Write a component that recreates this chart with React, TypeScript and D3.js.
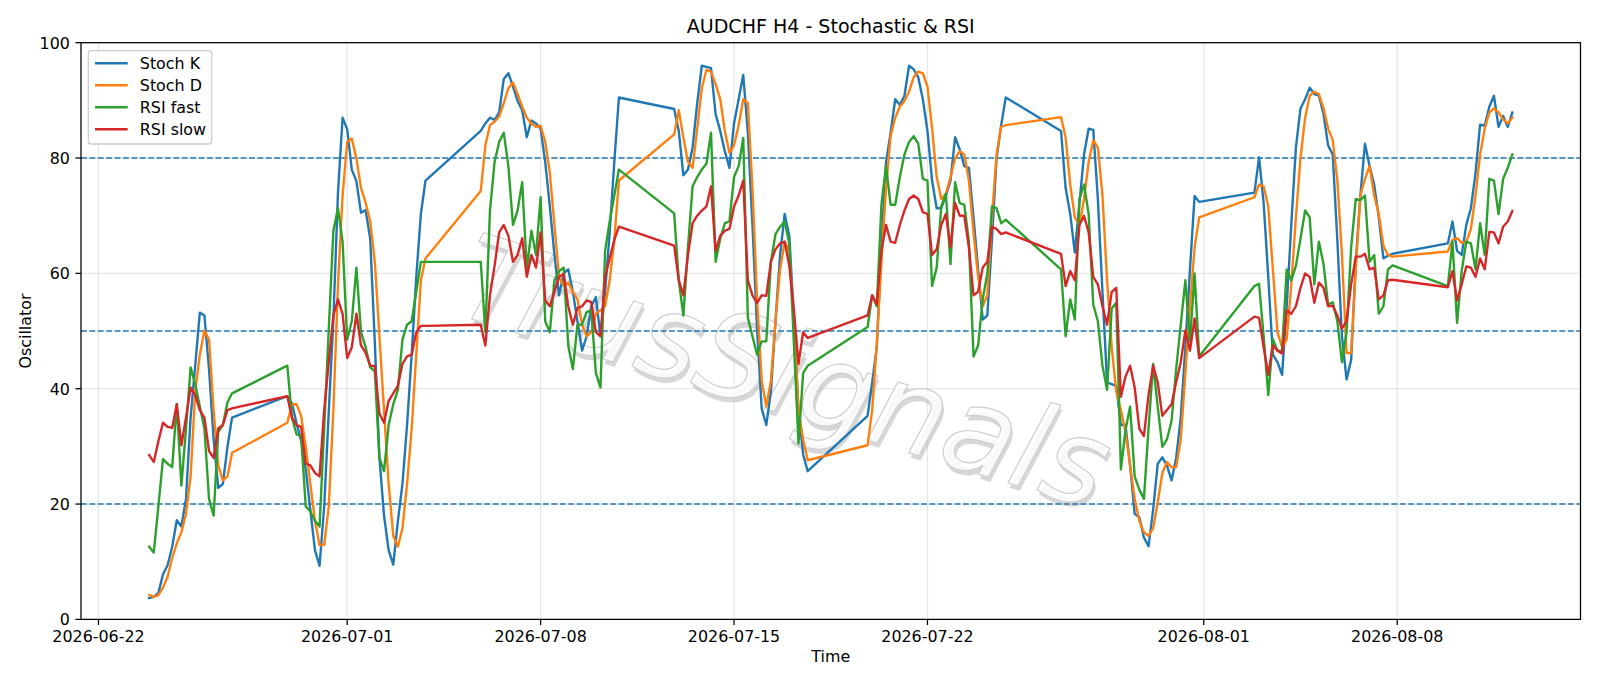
import React, { useEffect, useRef } from 'react';
import * as d3 from 'd3';

// H4 bars, one run per trading week (start time in UTC, number of bars)
const segmentStarts = [
  '2026-06-23T20:00', '2026-06-28T20:00', '2026-07-05T20:00', '2026-07-12T20:00',
  '2026-07-19T20:00', '2026-07-26T20:00', '2026-08-02T20:00', '2026-08-09T20:00',
];
const segmentBars = [19, 31, 31, 30, 31, 31, 31, 15];

const stochK = [
  3.7, 3.9, 4.6, 7.8, 9.4, 12.6, 17.2, 16.1, 20.9, 35.0, 44.0, 53.2, 52.7, 43.4, 31.2, 22.8, 23.5, 29.9, 35.0,
  38.7, 37.5, 34.0, 31.0, 26.0, 19.0, 12.0, 9.3, 19.5, 36.0, 52.0, 74.0, 87.0, 85.0, 78.0, 76.0, 70.5, 71.0, 66.0, 48.0, 28.0, 18.0, 12.0, 9.5, 17.0, 23.5, 33.7, 45.9, 59.4, 70.3, 76.1,
  84.7, 86.0, 87.0, 86.6, 87.9, 93.7, 94.7, 92.4, 89.9, 88.3, 83.6, 86.5, 86.0, 85.1, 79.3, 71.6, 63.2, 56.2, 60.0, 60.7, 56.8, 51.7, 46.6, 49.1, 54.3, 55.9, 49.1, 56.8, 67.1, 79.3, 90.5,
  88.5, 84.7, 77.0, 78.0, 81.8, 89.5, 96.0, 95.8, 95.6, 87.6, 84.7, 81.2, 78.3, 86.0, 90.2, 94.4, 84.4, 68.4, 50.4, 36.6, 33.7, 39.5, 51.7, 63.2, 70.3, 66.5, 52.3, 36.3, 28.6, 25.7,
  35.3, 41.1, 47.2, 64.5, 79.3, 84.4, 90.2, 89.2, 90.8, 96.0, 95.4, 94.0, 90.2, 84.7, 76.1, 71.3, 71.3, 73.5, 76.1, 83.6, 81.5, 78.6, 78.3, 69.7, 60.7, 52.0, 52.7, 65.8, 79.9, 85.7, 90.5,
  84.7, 74.8, 70.3, 63.6, 72.2, 80.6, 85.1, 84.9, 72.9, 56.8, 41.1, 40.8, 40.5, 33.7, 33.7, 26.7, 18.3, 17.7, 14.2, 12.7, 19.0, 27.0, 28.1, 26.7, 24.1, 28.0, 35.0, 47.2, 60.7, 73.4, 72.4,
  74.0, 80.1, 72.2, 59.4, 45.9, 44.6, 42.4, 54.3, 68.4, 81.8, 88.6, 90.2, 92.2, 91.1, 90.8, 87.6, 82.2, 80.6, 65.8, 49.1, 41.6, 45.0, 62.0, 73.5, 82.5, 78.6, 75.4, 69.7, 62.6, 63.1, 63.4,
  65.2, 69.0, 63.9, 63.2, 68.4, 71.3, 77.4, 85.8, 85.6, 88.9, 90.8, 85.4, 87.3, 85.4, 87.9,
];

const stochD = [
  4.2, 3.9, 4.2, 5.5, 7.4, 10.6, 13.2, 15.1, 18.3, 24.8, 39.5, 45.9, 50.1, 48.5, 36.3, 26.7, 24.1, 24.8, 28.9,
  34.1, 37.3, 37.3, 35.3, 29.9, 23.5, 17.1, 12.9, 12.9, 19.6, 36.3, 58.0, 73.5, 82.8, 83.4, 79.9, 74.8, 72.3, 69.0, 62.0, 49.1, 36.3, 23.5, 14.5, 12.6, 15.8, 23.5, 33.1, 45.9, 58.8, 62.6,
  74.3, 82.2, 85.7, 86.3, 87.2, 89.5, 92.1, 93.1, 91.1, 88.9, 87.0, 86.0, 85.4, 85.6, 82.8, 77.4, 68.4, 59.4, 57.8, 58.4, 56.8, 55.5, 51.1, 49.1, 49.8, 53.0, 53.6, 54.3, 58.8, 65.8, 76.1,
  84.1, 88.3, 83.5, 79.3, 78.3, 85.1, 92.1, 95.3, 95.0, 92.8, 90.2, 84.7, 80.9, 82.2, 85.7, 90.2, 89.5, 74.8, 55.5, 41.4, 36.9, 41.4, 51.7, 60.7, 65.5, 63.9, 51.7, 36.3, 31.2, 27.6,
  30.2, 36.3, 47.9, 62.0, 74.8, 83.8, 87.0, 88.9, 89.9, 91.5, 94.0, 95.0, 94.7, 92.4, 85.1, 76.7, 72.9, 73.8, 76.7, 79.9, 81.2, 80.6, 76.1, 67.1, 59.4, 54.3, 56.2, 69.7, 80.6, 85.4, 85.7,
  87.1, 83.5, 75.4, 69.7, 68.4, 72.9, 79.3, 83.1, 81.8, 73.5, 58.8, 47.2, 39.5, 36.3, 32.5, 26.7, 20.9, 17.1, 15.1, 14.5, 15.8, 20.3, 25.4, 27.3, 26.4, 26.4, 31.2, 42.7, 54.3, 64.5, 69.7,
  73.2, 75.4, 75.1, 71.6, 60.7, 49.8, 47.2, 48.5, 58.1, 69.7, 80.0, 87.0, 90.8, 91.5, 91.1, 88.6, 85.1, 83.1, 76.1, 63.2, 46.2, 46.2, 60.7, 73.5, 76.4, 78.6, 73.5, 70.3, 64.8, 63.2, 62.9,
  63.8, 65.8, 66.1, 65.3, 65.5, 67.7, 73.5, 80.6, 85.1, 87.9, 88.6, 87.9, 86.7, 86.0, 87.0,
];

const rsiFast = [
  12.6, 11.6, 19.6, 27.8, 27.0, 26.4, 37.3, 23.2, 33.1, 43.7, 40.8, 36.9, 33.1, 20.9, 18.0, 32.5, 33.7, 37.6, 39.2,
  44.0, 35.0, 32.1, 31.8, 19.6, 18.7, 17.1, 16.1, 33.1, 50.4, 67.4, 71.3, 65.5, 48.5, 51.7, 61.0, 49.8, 47.2, 43.7, 43.0, 28.0, 25.7, 33.7, 37.3, 39.8, 48.5, 51.1, 51.7, 56.8, 62.0, 62.0,
  62.0, 49.8, 70.9, 79.3, 82.8, 84.4, 78.6, 68.4, 70.9, 75.8, 60.7, 67.4, 63.2, 73.2, 51.7, 49.8, 58.8, 60.4, 61.0, 47.5, 43.4, 51.1, 51.1, 53.3, 53.6, 42.7, 40.2, 63.9, 69.0, 73.5, 78.0,
  70.4, 58.8, 52.7, 64.5, 75.1, 76.7, 78.0, 79.0, 84.4, 62.0, 66.0, 68.7, 69.0, 76.7, 78.6, 83.5, 52.3, 49.1, 45.9, 48.2, 48.2, 62.0, 66.8, 68.1, 69.0, 65.2, 47.9, 30.5, 42.7, 44.0,
  50.7, 56.2, 54.3, 71.9, 78.6, 71.9, 71.9, 76.7, 80.6, 82.8, 83.8, 82.5, 76.4, 76.1, 57.8, 61.0, 71.6, 73.8, 61.6, 75.8, 72.2, 71.9, 65.5, 45.6, 47.5, 55.5, 60.0, 71.6, 71.3, 68.7, 69.3,
  60.7, 49.1, 55.5, 52.0, 72.9, 75.4, 70.3, 54.6, 51.7, 44.0, 39.8, 53.9, 54.9, 26.0, 32.8, 36.9, 24.8, 22.5, 20.9, 33.1, 44.3, 36.9, 29.9, 31.2, 34.4, 43.4, 51.1, 58.8, 48.2, 60.0, 45.6,
  57.8, 58.2, 49.1, 38.9, 48.6, 46.6, 46.6, 60.7, 58.8, 61.3, 66.0, 70.9, 69.7, 58.1, 65.5, 61.6, 54.6, 55.0, 51.7, 44.6, 49.8, 64.5, 72.9, 72.7, 73.5, 62.0, 63.2, 53.0, 54.3, 60.7, 61.4,
  57.8, 65.5, 51.4, 60.4, 65.5, 65.2, 60.7, 68.7, 63.2, 76.4, 76.1, 70.3, 76.4, 78.3, 80.6,
];

const rsiSlow = [
  28.5, 27.3, 30.9, 34.1, 33.4, 33.2, 37.3, 30.2, 35.0, 40.2, 38.9, 36.3, 35.0, 29.2, 28.0, 33.1, 33.7, 36.3, 36.6,
  38.7, 35.0, 33.7, 33.4, 27.0, 26.7, 25.4, 24.8, 36.3, 44.6, 52.7, 55.5, 53.0, 45.3, 47.2, 53.0, 47.5, 46.2, 44.0, 43.9, 35.7, 34.1, 37.9, 39.2, 40.5, 44.3, 45.6, 45.9, 49.8, 50.9, 50.9,
  51.1, 47.5, 56.2, 61.3, 67.1, 68.4, 66.5, 62.0, 63.2, 66.1, 59.4, 63.2, 61.0, 67.1, 55.3, 54.3, 56.8, 59.4, 59.9, 54.3, 51.1, 54.0, 54.3, 55.3, 55.0, 49.8, 49.1, 59.4, 62.6, 65.8, 68.1,
  64.8, 58.8, 56.2, 63.2, 68.7, 70.0, 70.9, 71.6, 75.1, 63.9, 66.5, 67.4, 67.7, 71.6, 73.5, 76.1, 58.8, 56.2, 54.9, 56.2, 56.1, 62.0, 64.2, 65.2, 65.5, 61.3, 53.6, 44.3, 49.8, 48.8,
  52.7, 56.2, 54.6, 63.9, 68.4, 65.5, 65.3, 68.4, 70.9, 72.9, 73.5, 72.9, 70.6, 70.3, 63.2, 64.2, 68.4, 70.3, 64.5, 72.2, 70.0, 70.0, 64.5, 56.2, 56.8, 61.0, 62.0, 68.1, 67.7, 66.8, 67.1,
  63.4, 57.8, 60.4, 58.8, 68.4, 70.0, 67.1, 59.4, 58.1, 54.3, 51.1, 56.8, 57.5, 38.6, 42.1, 44.0, 40.2, 33.1, 31.8, 38.9, 44.0, 41.1, 35.3, 36.3, 37.3, 41.1, 44.6, 50.1, 46.6, 52.2, 45.3,
  52.5, 52.3, 47.2, 42.4, 47.5, 46.6, 46.1, 53.6, 53.0, 54.3, 57.5, 60.0, 59.4, 54.9, 58.4, 57.5, 54.3, 54.4, 52.7, 50.4, 51.7, 58.1, 62.9, 62.9, 63.4, 60.7, 61.0, 55.5, 56.2, 58.8, 58.9,
  57.6, 60.4, 55.3, 58.1, 61.2, 61.0, 59.4, 62.6, 60.7, 67.2, 67.1, 65.2, 68.1, 69.0, 70.8,
];

const seriesNames = ['Stoch K', 'Stoch D', 'RSI fast', 'RSI slow'];
const seriesColors = ['#1f77b4', '#ff7f0e', '#2ca02c', '#d62728'];
const levelLines = [20, 50, 80];
const yTicks = [0, 20, 40, 60, 80, 100];
const xTickLabels = ['2026-06-22', '2026-07-01', '2026-07-08', '2026-07-15', '2026-07-22', '2026-08-01', '2026-08-08'];
const watermark = 'TrusSignals';

const FONT = 'DejaVu Sans, sans-serif';

export default function App() {
  const svgRef = useRef<SVGSVGElement>(null);

  useEffect(() => {
    if (!svgRef.current) return;
    const svg = d3.select(svgRef.current);
    svg.selectAll('*').remove();

    const left = 81, right = 1580.5, top = 42.7, bottom = 619.4;

    // build timestamps
    const times: Date[] = [];
    segmentStarts.forEach((s, i) => {
      const t0 = new Date(s + ':00Z').getTime();
      for (let k = 0; k < segmentBars[i]; k++) times.push(new Date(t0 + k * 4 * 3600 * 1000));
    });
    const t0 = times[0].getTime();
    const t1 = times[times.length - 1].getTime();
    const pad = (t1 - t0) * 0.05;

    const x = d3.scaleUtc().domain([new Date(t0 - pad), new Date(t1 + pad)]).range([left, right]);
    const y = d3.scaleLinear().domain([0, 100]).range([bottom, top]);

    svg.append('rect').attr('width', 1600).attr('height', 686).attr('fill', '#fff');

    // grid
    const grid = svg.append('g');
    xTickLabels.forEach(d => {
      const xp = x(new Date(d + 'T00:00:00Z'));
      grid.append('line').attr('x1', xp).attr('x2', xp).attr('y1', top).attr('y2', bottom)
        .attr('stroke', '#b0b0b0').attr('stroke-opacity', 0.3).attr('stroke-width', 1.27);
    });
    yTicks.forEach(v => {
      grid.append('line').attr('x1', left).attr('x2', right).attr('y1', y(v)).attr('y2', y(v))
        .attr('stroke', '#b0b0b0').attr('stroke-opacity', 0.3).attr('stroke-width', 1.27);
    });

    // watermark
    const wm = svg.append('g').attr('transform', 'translate(785,372) rotate(17)');
    wm.append('text').attr('x', 3).attr('y', 4)
      .attr('text-anchor', 'middle').attr('dominant-baseline', 'central')
      .attr('font-family', FONT).attr('font-style', 'italic').attr('font-size', 118)
      .attr('fill', '#9a9a9a').attr('fill-opacity', 0.4)
      .text(watermark);
    wm.append('text')
      .attr('text-anchor', 'middle').attr('dominant-baseline', 'central')
      .attr('font-family', FONT).attr('font-style', 'italic').attr('font-size', 118)
      .attr('fill', '#ffffff').attr('fill-opacity', 0.85)
      .attr('stroke', '#cfcfcf').attr('stroke-width', 1.2)
      .text(watermark);

    // level lines
    levelLines.forEach(v => {
      svg.append('line').attr('x1', left).attr('x2', right).attr('y1', y(v)).attr('y2', y(v))
        .attr('stroke', '#1f77b4').attr('stroke-width', 1.59).attr('stroke-dasharray', '5.9,2.5');
    });

    // series
    const series = [stochK, stochD, rsiFast, rsiSlow];
    const line = d3.line<number>()
      .defined(v => v != null && !isNaN(v))
      .x((_, i) => x(times[i]))
      .y(v => y(v));
    series.forEach((vals, si) => {
      svg.append('path').datum(vals).attr('d', line)
        .attr('fill', 'none').attr('stroke', seriesColors[si])
        .attr('stroke-width', 2.38).attr('stroke-linejoin', 'round').attr('stroke-linecap', 'square');
    });

    // spines
    svg.append('rect').attr('x', left).attr('y', top).attr('width', right - left).attr('height', bottom - top)
      .attr('fill', 'none').attr('stroke', '#000').attr('stroke-width', 1.27);

    // y ticks
    yTicks.forEach(v => {
      svg.append('line').attr('x1', left - 5.56).attr('x2', left).attr('y1', y(v)).attr('y2', y(v))
        .attr('stroke', '#000').attr('stroke-width', 1.27);
      svg.append('text').attr('x', left - 11.1).attr('y', y(v) + 5.8)
        .attr('text-anchor', 'end').attr('font-family', FONT).attr('font-size', 15.9)
        .text(String(v));
    });

    // x ticks
    xTickLabels.forEach(d => {
      const xp = x(new Date(d + 'T00:00:00Z'));
      svg.append('line').attr('x1', xp).attr('x2', xp).attr('y1', bottom).attr('y2', bottom + 5.56)
        .attr('stroke', '#000').attr('stroke-width', 1.27);
      svg.append('text').attr('x', xp).attr('y', 641.9)
        .attr('text-anchor', 'middle').attr('font-family', FONT).attr('font-size', 15.9)
        .text(d);
    });

    // labels
    svg.append('text').attr('x', (left + right) / 2).attr('y', 33.2)
      .attr('text-anchor', 'middle').attr('font-family', FONT).attr('font-size', 19.05)
      .text('AUDCHF H4 - Stochastic & RSI');
    svg.append('text').attr('x', (left + right) / 2).attr('y', 661.5)
      .attr('text-anchor', 'middle').attr('font-family', FONT).attr('font-size', 15.9)
      .text('Time');
    svg.append('text').attr('transform', `translate(31.3,${(top + bottom) / 2}) rotate(-90)`)
      .attr('text-anchor', 'middle').attr('font-family', FONT).attr('font-size', 15.9)
      .text('Oscillator');

    // legend
    const lg = svg.append('g');
    lg.append('rect').attr('x', 88.3).attr('y', 50.7).attr('width', 123.4).attr('height', 93.3)
      .attr('rx', 3).attr('fill', '#fff').attr('fill-opacity', 0.8)
      .attr('stroke', '#cccccc').attr('stroke-width', 1.27);
    seriesNames.forEach((name, i) => {
      const cy = 63.3 + i * 22;
      lg.append('line').attr('x1', 95).attr('x2', 127.7).attr('y1', cy).attr('y2', cy)
        .attr('stroke', seriesColors[i]).attr('stroke-width', 2.38);
      lg.append('text').attr('x', 139.8).attr('y', cy + 5.6)
        .attr('font-family', FONT).attr('font-size', 15.9).text(name);
    });
  }, []);

  return (
    <svg ref={svgRef} width={1600} height={686}
      style={{ position: 'absolute', left: 0, top: 0, display: 'block' }} />
  );
}
